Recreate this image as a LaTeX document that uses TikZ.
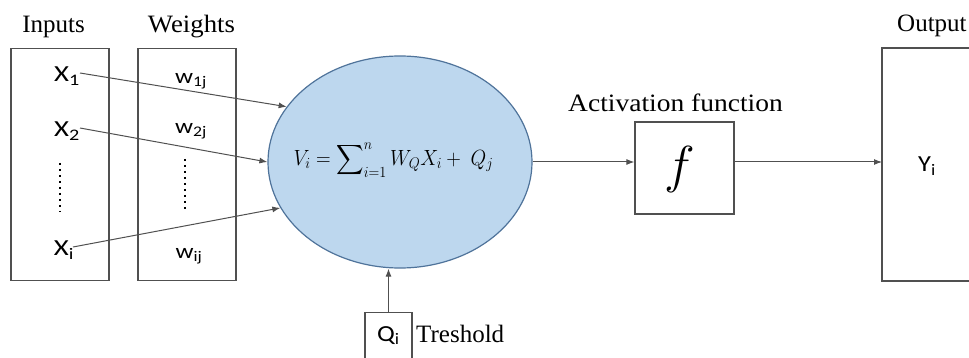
\RequirePackage{fix-cm}
\documentclass[tikz,border=0pt]{standalone}
\usepackage{exscale}
\usepackage{graphicx}
\usepackage{fontspec}
\setmainfont{Liberation Serif}
\newfontfamily\calfont{Carlito}
\usetikzlibrary{shapes.geometric,arrows.meta}
\definecolor{linegray}{HTML}{505050}
\definecolor{neuronfill}{HTML}{BDD7EE}
\definecolor{neurondraw}{HTML}{4F739A}
\newcommand{\hstretch}[2]{\scalebox{#1}[1]{#2}}
\tikzset{
  box/.style={draw=linegray, line width=1.2pt, inner sep=0pt},
  var/.style={font=\calfont\fontsize{23}{23}\selectfont, inner sep=1pt},
  wvar/.style={font=\calfont\fontsize{21}{21}\selectfont, inner sep=1pt},
  title/.style={font=\fontsize{25}{25}\selectfont, inner sep=0pt, anchor=base},
  conn/.style={draw=linegray, line width=1pt, -{Latex[length=8pt,width=6pt]}},
  dots/.style={draw=black, line width=2.4pt, dash pattern=on 2.4pt off 3.6pt},
}
\begin{document}
\begin{tikzpicture}[x=1pt,y=-1pt]
\useasboundingbox (0,0) rectangle (969,358);
% boxes
\node[box, minimum width=98pt, minimum height=232pt] (inbox) at (60,164.5) {};
\node[box, minimum width=98pt, minimum height=232pt] (wbox) at (187,164.5) {};
\node[title] (intitle) at (53.5,33) {Inputs};
\node[title] (wtitle) at (191.5,33) {\hstretch{1.07}{Weights}};
% inputs
\node[var] (x1) at (67,76) {\hstretch{1.25}{X\textsubscript{1}}};
\node[var] (x2) at (67,131) {\hstretch{1.25}{X\textsubscript{2}}};
\node[var] (xi) at (64,250) {\hstretch{1.25}{X\textsubscript{i}}};
\coordinate (xd1) at (60,163);
\coordinate (xd2) at (60,212);
\draw[dots] (xd1) -- (xd2);
% weights
\node[wvar] (w1) at (191,81) {\hstretch{1.2}{w\textsubscript{1j}}};
\node[wvar] (w2) at (191,131) {\hstretch{1.2}{w\textsubscript{2j}}};
\node[wvar] (wi) at (189,256) {\hstretch{1.2}{w\textsubscript{ij}}};
\coordinate (wd1) at (185,159);
\coordinate (wd2) at (185,209);
\draw[dots] (wd1) -- (wd2);
% neuron
\node[ellipse, draw=neurondraw, fill=neuronfill, line width=1.2pt,
      minimum width=264pt, minimum height=212pt, inner sep=0pt] (neuron) at (400,162) {};
\node[inner sep=0pt] (eq) at (393.5,160)
  {\hstretch{0.92}{\fontsize{22}{22}\selectfont$\displaystyle V_i=\sum\nolimits_{i=1}^{n} W_Q X_i +\ Q_j$}};
% input connectors
\coordinate (x1s) at (80,73);
\coordinate (x2s) at (80,128);
\coordinate (xis) at (73,247);
\draw[conn] (x1s) -- (neuron.154);
\draw[conn] (x2s) -- (neuron.180);
\draw[conn] (xis) -- (neuron.201);
% threshold
\node[box, minimum width=47pt, minimum height=46pt, anchor=north, font=\calfont\fontsize{23}{23}\selectfont] (q) at (388.5,312) {\hstretch{1.15}{Q\textsubscript{i}}};
\node[title, anchor=base west] (qlabel) at (416,342) {Treshold};
\draw[conn] (q.north) -- (q.north |- neuron.south);
% activation
\node[box, minimum width=99pt, minimum height=92pt] (f) at (684.5,168) {};
\node[inner sep=0pt] (fsym) at (680,170) {\fontsize{52}{52}\selectfont$f$};
\node[title, anchor=base west] (ftitle) at (568,112) {\hstretch{1.1}{Activation function}};
\draw[conn] (neuron.east) -- (f.west |- neuron.east);
% output
\coordinate (otl) at (969,48);
\coordinate (obl) at (969,281);
\coordinate (oleft) at (882,162);
\draw[linegray, line width=1.2pt] (otl) -- (882,48) -- (882,281) -- (obl);
\node[title, anchor=base west] (otitle) at (897,32) {Output};
\node[var] (y) at (927,166) {\hstretch{1.15}{Y\textsubscript{i}}};
\draw[conn] (f.east |- neuron.east) -- (oleft);
\end{tikzpicture}
\end{document}
